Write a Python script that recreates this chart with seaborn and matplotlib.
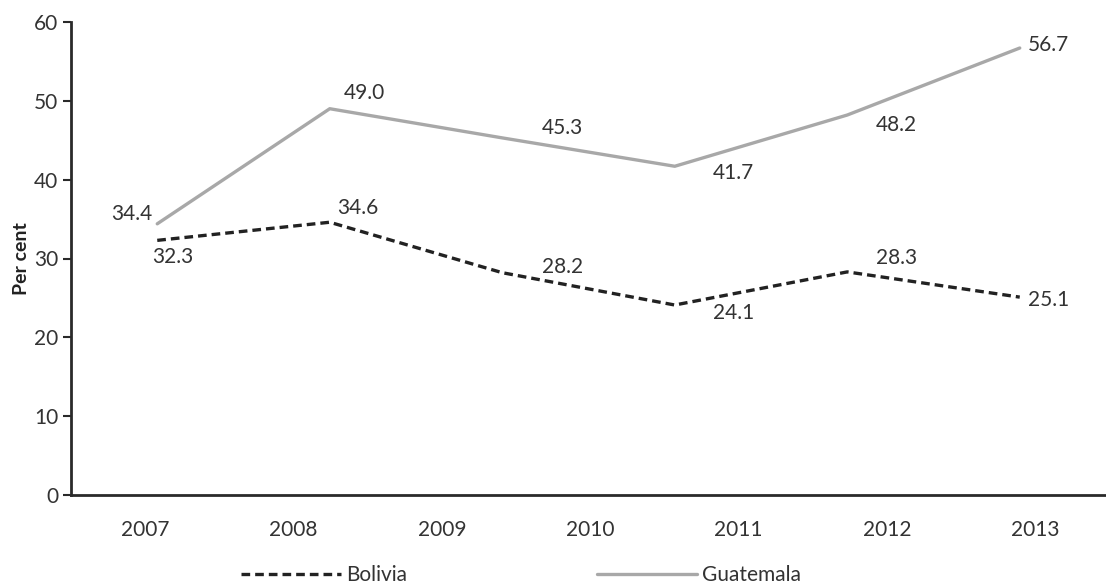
import pandas as pd
import seaborn as sns
import matplotlib.pyplot as plt
import numpy as np

# Data (six points per series, seven year labels)
years = ["2007", "2008", "2009", "2010", "2011", "2012", "2013"]
bolivia = [32.3, 34.6, 28.2, 24.1, 28.3, 25.1]
guatemala = [34.4, 49.0, 45.3, 41.7, 48.2, 56.7]

# label offsets in pixels (dx, dy, ha)
bolivia_offsets = [(-5, -17, "left"), (7, 14, "left"), (40, 6, "left"),
                   (38, -8, "left"), (29, 14, "left"), (8, -3, "left")]
guatemala_offsets = [(-5, 10, "right"), (14, 16, "left"), (40, 10, "left"),
                     (38, -7, "left"), (29, -10, "left"), (8, 3, "left")]

df = pd.DataFrame({
    "pos": list(range(len(bolivia))) * 2,
    "value": bolivia + guatemala,
    "country": ["Bolivia"] * len(bolivia) + ["Guatemala"] * len(guatemala),
})

sns.set_style("white")
plt.rcParams["font.family"] = ["Lato", "DejaVu Sans"]
text_col = "#333333"
axis_col = "#2a2a2a"
fs = 15

fig = plt.figure(figsize=(11.06, 5.86), dpi=100)
ax = fig.add_axes([71 / 1106, (586 - 495) / 586, 1 - 71 / 1106, (495 - 22) / 586])

sns.lineplot(data=df[df.country == "Bolivia"], x="pos", y="value", ax=ax,
             color="#222222", linewidth=2.4, label="Bolivia")
ax.lines[-1].set_dashes([2.6, 1.5])
sns.lineplot(data=df[df.country == "Guatemala"], x="pos", y="value", ax=ax,
             color="#a8a8a8", linewidth=2.4, label="Guatemala")

for vals, offs in ((bolivia, bolivia_offsets), (guatemala, guatemala_offsets)):
    for i, (v, (dx, dy, ha)) in enumerate(zip(vals, offs)):
        ax.annotate(f"{v:.1f}", (i, v), xytext=(dx, dy), textcoords="offset pixels",
                    ha=ha, va="center", fontsize=fs, color=text_col)

ax.set_xlim(-0.5, 5.5)
ax.set_ylim(0, 60)
ax.set_yticks(range(0, 61, 10))
ax.set_xticks(np.arange(-0.5, 5.6, 1), minor=True)
ax.set_xticks(np.linspace(-0.07, 5.09, len(years)))
ax.set_xticklabels(years)
ax.tick_params(axis="x", which="major", length=0, pad=18, labelsize=fs, labelcolor=text_col)
ax.tick_params(axis="x", which="minor", length=6, width=1.2, color=axis_col, direction="out")
ax.tick_params(axis="y", length=6, width=1.5, color=axis_col, direction="out",
               left=True, pad=3, labelsize=fs, labelcolor=text_col)

for s in ["top", "right"]:
    ax.spines[s].set_visible(False)
for s in ["left", "bottom"]:
    ax.spines[s].set_color(axis_col)
    ax.spines[s].set_linewidth(2)

ax.set_xlabel("")
ax.set_ylabel("Per cent", fontsize=14, fontweight="bold", color="#222222", labelpad=3)

ax.legend(loc="upper center", bbox_to_anchor=(0.435, -0.13), ncol=2, frameon=False,
          fontsize=fs, handlelength=4.8, handletextpad=0.25, columnspacing=9.1,
          labelcolor=text_col, borderaxespad=0)

fig.savefig("out.png", dpi=100)
